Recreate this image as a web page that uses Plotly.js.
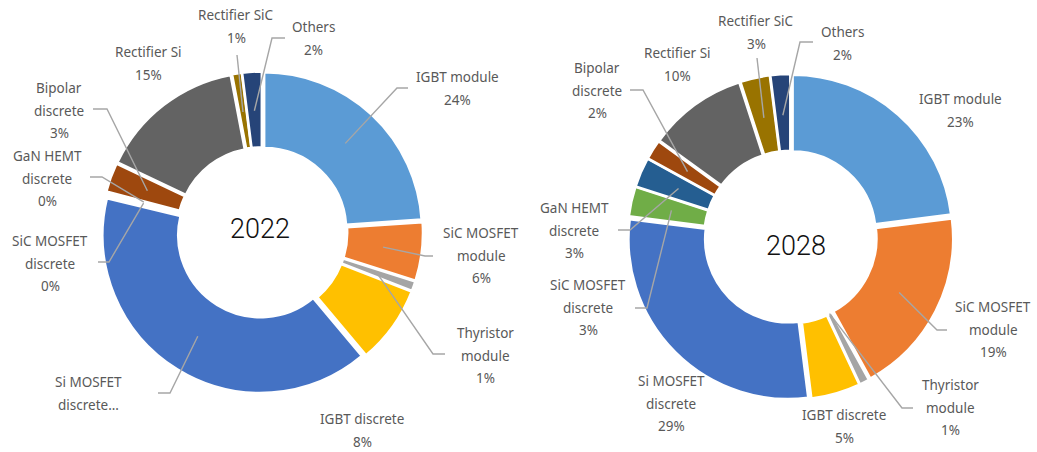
<!DOCTYPE html>
<html>
<head>
<meta charset="utf-8">
<script src="https://cdn.plot.ly/plotly-3.0.1.min.js"></script>
<style>
  html, body { margin: 0; padding: 0; background: #fff; }
  #chart { width: 1037px; height: 452px; }
</style>
</head>
<body>
<div id="chart"></div>
<script>
// data, clockwise from 12 o'clock
const categories = ['IGBT module', 'SiC MOSFET module', 'Thyristor module', 'IGBT discrete',
  'Si MOSFET discrete', 'SiC MOSFET discrete', 'GaN HEMT discrete', 'Bipolar discrete',
  'Rectifier Si', 'Rectifier SiC', 'Others'];
const share2022 = [24, 6, 1, 8, 40, 0.2, 0.1, 3, 15, 1, 2];
const share2028 = [23, 19, 1, 5, 29, 3, 3, 2, 10, 3, 2];
const sliceColors = ['#5B9BD5', '#ED7D31', '#A5A5A5', '#FFC000', '#4472C4', '#70AD47',
  '#255E91', '#9E480E', '#636363', '#997300', '#264478'];
const labelLines = [['IGBT module'], ['SiC MOSFET', 'module'], ['Thyristor', 'module'], ['IGBT discrete'],
  ['Si MOSFET', 'discrete'], ['SiC MOSFET', 'discrete'], ['GaN HEMT', 'discrete'], ['Bipolar', 'discrete'],
  ['Rectifier Si'], ['Rectifier SiC'], ['Others']];

const W = 1037, H = 452;
const LINE_GAP = 22.7;

// label placement (pixels); lead = [x at label, y, elbow x], r = radius of leader end
const charts = [
  { year: '2022', values: share2022, cx: 262, cy: 232.5, R: 161, yearX: 260, yearY: 229,
    labels: [
      { x: 457, y: 77, lead: [408, 88, 397] },
      { x: 481, y: 233, lead: [433, 256, 425] },
      { x: 485, y: 333, lead: [445, 354, 433] },
      { x: 362, y: 419 },
      { x: 88, y: 382, lead: [158, 393, 170], cut: true },
      { x: 50, y: 241, lead: [98, 262, 109] },
      { x: 47, y: 156, lead: [90, 177, 102] },
      { x: 59, y: 88, lead: [93, 109, 107] },
      { x: 148, y: 52 },
      { x: 236, y: 15, lead: [237, 55, 237] },
      { x: 313, y: 27, lead: [285, 38, 272] }
    ] },
  { year: '2028', values: share2028, cx: 790.5, cy: 237, R: 163, yearX: 796, yearY: 246,
    labels: [
      { x: 960, y: 99 },
      { x: 993, y: 307, lead: [947, 330, 937] },
      { x: 950, y: 385, lead: [913, 408, 902], r: 86 },
      { x: 844, y: 415 },
      { x: 671, y: 381 },
      { x: 588, y: 285, lead: [635, 308, 647] },
      { x: 574, y: 208, lead: [618, 230, 630] },
      { x: 597, y: 68, lead: [630, 90, 643] },
      { x: 677, y: 53 },
      { x: 756, y: 21, lead: [757, 58, 757] },
      { x: 842, y: 32, lead: [813, 42, 800] }
    ] }
];

const px = x => x / W;
const py = y => 1 - y / H;

const traces = [];
const annotations = [];
const shapes = [];
const labelFont = { family: 'Noto Sans, Open Sans, sans-serif', size: 13.5, color: '#595959' };

charts.forEach(c => {
  const pull = 0.02;
  traces.push({
    type: 'pie',
    values: c.values,
    labels: categories,
    sort: false,
    direction: 'clockwise',
    rotation: 0,
    hole: 0.52,
    pull: pull,
    marker: { colors: sliceColors, line: { color: '#ffffff', width: 2.5 } },
    textinfo: 'none',
    hoverinfo: 'label+percent',
    domain: { x: [px(c.cx - c.R), px(c.cx + c.R)], y: [py(c.cy + c.R), py(c.cy - c.R)] }
  });

  // year in the hole
  annotations.push({
    xref: 'paper', yref: 'paper', x: px(c.yearX), y: py(c.yearY),
    text: c.year, showarrow: false, xanchor: 'center', yanchor: 'middle',
    font: { family: 'Roboto, sans-serif', size: 27, weight: 300, color: '#111111' }
  });

  const total = c.values.reduce((a, b) => a + b, 0);
  let cum = 0;
  c.values.forEach((v, i) => {
    const mid = (cum + v / 2) / total * 2 * Math.PI;
    cum += v;
    const lab = c.labels[i];
    let lines = labelLines[i].slice();
    if (lab.cut) lines[lines.length - 1] += '...';
    else lines.push(Math.round(v / total * 100) + '%');
    lines.forEach((t, k) => {
      annotations.push({
        xref: 'paper', yref: 'paper', x: px(lab.x), y: py(lab.y + k * LINE_GAP),
        text: t, showarrow: false, xanchor: 'center', yanchor: 'middle', font: labelFont
      });
    });
    if (lab.lead) {
      const r = lab.r || 122;
      const ex = c.cx + r * Math.sin(mid);
      const ey = c.cy - r * Math.cos(mid);
      const [x0, y0, x1] = lab.lead;
      shapes.push({
        type: 'path', xref: 'paper', yref: 'paper',
        path: `M ${px(x0)},${py(y0)} L ${px(x1)},${py(y0)} L ${px(ex)},${py(ey)}`,
        line: { color: '#A6A6A6', width: 1.4 }
      });
    }
  });
});

const layout = {
  width: W,
  height: H,
  margin: { l: 0, r: 0, t: 0, b: 0 },
  paper_bgcolor: '#ffffff',
  showlegend: false,
  annotations: annotations,
  shapes: shapes
};

Plotly.newPlot('chart', traces, layout, { displayModeBar: false, staticPlot: true });
</script>
</body>
</html>
